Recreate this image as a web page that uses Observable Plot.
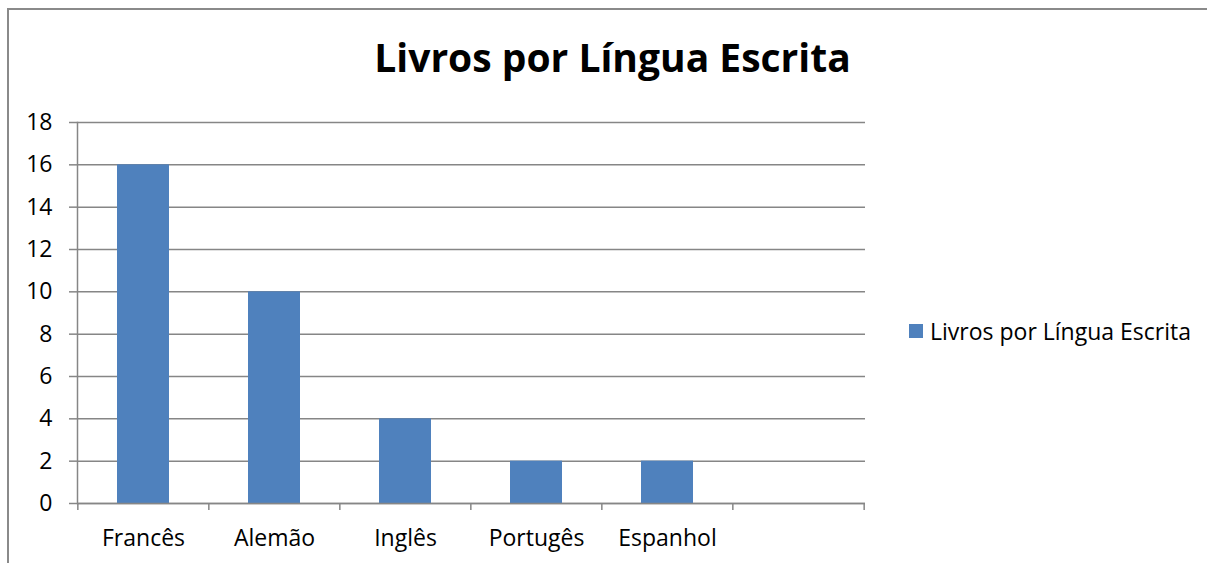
<!DOCTYPE html>
<html>
<head>
<meta charset="utf-8">
<script src="https://cdn.jsdelivr.net/npm/d3@7"></script>
<script src="https://cdn.jsdelivr.net/npm/@observablehq/plot@0.6"></script>
<style>
  html, body { margin: 0; padding: 0; background: #fff; }
  #wrap { position: relative; width: 1207px; height: 563px; overflow: hidden; font-family: "Open Sans", "Liberation Sans", sans-serif; }
  #wrap svg.chart { position: absolute; left: 0; top: 0; }
  #frame { position: absolute; left: 7px; top: 8px; width: 1220px; height: 600px; border-top: 2px solid #8a8a8a; border-left: 2px solid #8a8a8a; }
  #title { position: absolute; left: 0; width: 1225px; top: 30px; text-align: center; font-weight: bold; font-size: 39px; color: #000; }
  #legend { position: absolute; left: 909px; top: 314px; width: 420px; white-space: nowrap; }
  #legend * { white-space: nowrap; }
  #legend div[class^="plot"] svg { margin-right: 7px !important; }
</style>
</head>
<body>
<div id="wrap">
  <div id="frame"></div>
  <div id="title"></div>
  <div id="legend"></div>
</div>
<script>
const titleText = "Livros por Língua Escrita";
const seriesName = "Livros por Língua Escrita";
const categories = ["Francês", "Alemão", "Inglês", "Portugês", "Espanhol", ""];
const values = [16, 10, 4, 2, 2, null];
const yTicks = [0, 2, 4, 6, 8, 10, 12, 14, 16, 18];
const barColor = "#4F81BD";
const axisColor = "#868686";

const W = 1207, H = 563;
const M = {left: 77, right: 342, top: 122, bottom: 60};
const step = (W - M.left - M.right) / categories.length;
const font = "'Open Sans', 'Liberation Sans', sans-serif";

const data = categories.map((c, i) => ({cat: c, value: values[i]}));

const chart = Plot.plot({
  width: W,
  height: H,
  marginLeft: M.left,
  marginRight: M.right,
  marginTop: M.top,
  marginBottom: M.bottom,
  style: {fontFamily: font, fontSize: "23px", color: "#000", background: "transparent"},
  x: {domain: categories, paddingInner: 0.6, paddingOuter: 0.3},
  y: {domain: [0, 18]},
  marks: [
    Plot.gridY(yTicks, {stroke: axisColor, strokeOpacity: 1, strokeWidth: 1.5}),
    Plot.axisY(yTicks, {tickSize: 8, tickPadding: 17, stroke: axisColor, strokeWidth: 1.5, label: null, fill: "#000", tickFormat: d => String(d)}),
    Plot.barY(data.filter(d => d.value != null), {x: "cat", y: "value", fill: barColor}),
    Plot.frame({anchor: "left", stroke: axisColor, strokeWidth: 1.5}),
    Plot.ruleY([0], {stroke: axisColor, strokeWidth: 1.5}),
    Plot.axisX({tickSize: 7, dx: -step / 2, tickFormat: () => "", stroke: axisColor, strokeWidth: 1.5, label: null}),
    Plot.axisX({ticks: [categories[categories.length - 1]], tickSize: 7, dx: step / 2, tickFormat: () => "", stroke: axisColor, strokeWidth: 1.5, label: null}),
    Plot.axisX({tickSize: 0, tickPadding: 26, label: null, fill: "#000"})
  ]
});
chart.classList.add("chart");
document.getElementById("wrap").appendChild(chart);

document.getElementById("title").textContent = titleText;

const legend = Plot.legend({
  color: {type: "categorical", domain: [seriesName], range: [barColor]},
  swatchSize: 14,
  style: {fontFamily: font, fontSize: "23px", color: "#000"}
});
document.getElementById("legend").appendChild(legend);
</script>
</body>
</html>
